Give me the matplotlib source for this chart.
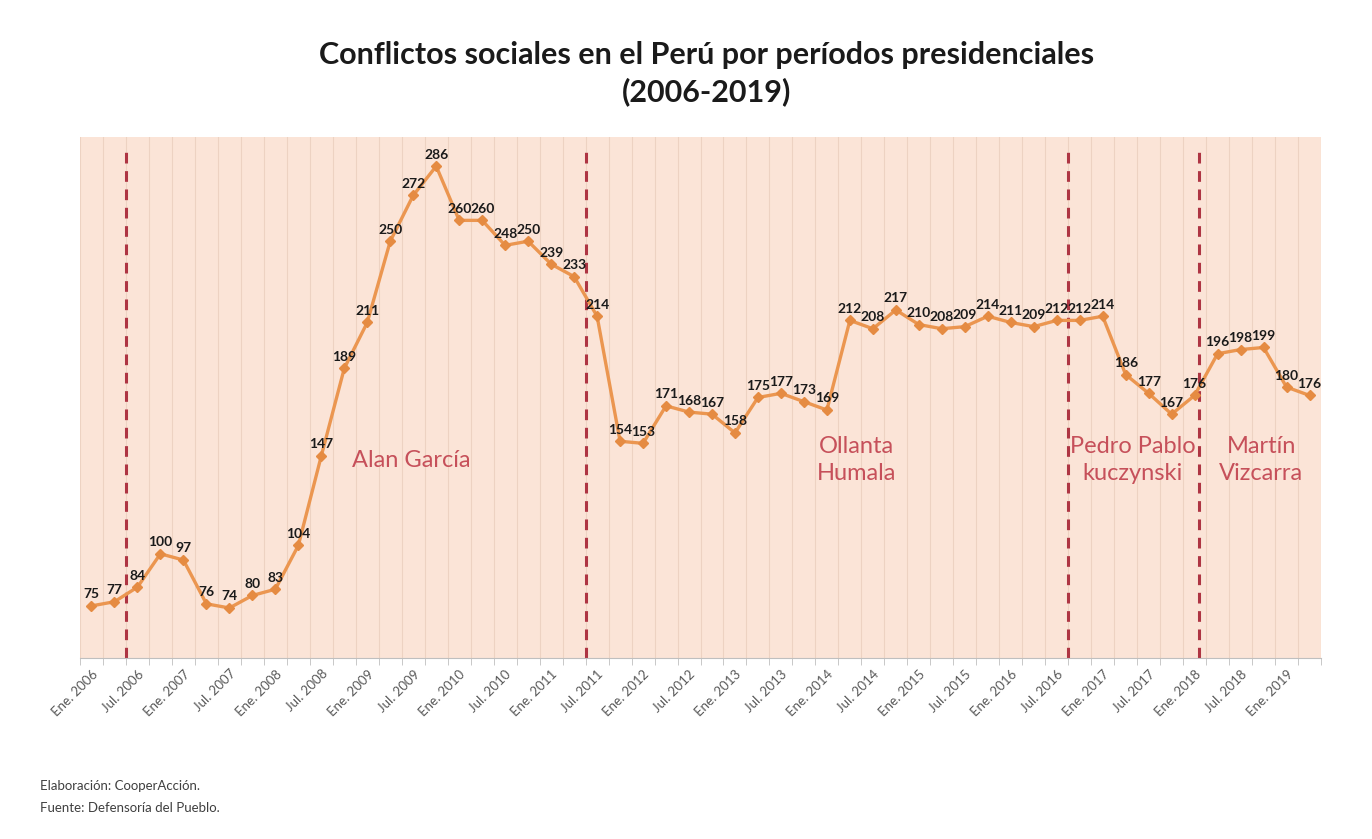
import matplotlib.pyplot as plt
import numpy as np

# quarterly counts of social conflicts (Ene, Abr, Jul, Oct), 2006 - Abr 2019
conflictos = [75, 77, 84, 100, 97, 76, 74, 80, 83, 104, 147, 189, 211, 250,
              272, 286, 260, 260, 248, 250, 239, 233, 214, 154, 153, 171, 168,
              167, 158, 175, 177, 173, 169, 212, 208, 217, 210, 208, 209, 214,
              211, 209, 212, 212, 214, 186, 177, 167, 176, 196, 198, 199, 180,
              176]
anios = list(range(2006, 2020))
meses = ['Ene.', 'Abr.', 'Jul.', 'Oct.']

# presidential periods: name and quarter index where the label sits
presidentes = ['Alan García', 'Ollanta\nHumala', 'Pedro Pablo\nkuczynski', 'Martín\nVizcarra']
pos_presidentes = [13.9, 33.3, 45.3, 50.9]
# change of government (quarter index)
cambios = [1.5, 21.5, 42.5, 48.2]

plt.rcParams['font.family'] = ['Lato', 'DejaVu Sans']

n = len(conflictos)
x = np.arange(n)
etiquetas = []
for a in anios:
  for m in meses:
    etiquetas.append(m + ' ' + str(a))
etiquetas = etiquetas[:n]

fig = plt.figure(figsize=(13.72, 8.39), dpi=100)
ax = fig.add_axes([80/1372, 1 - 658/839, 1241/1372, 521/839])
ax.set_facecolor('#FBE4D7')

ax.plot(x, conflictos, color='#EB9650', lw=2.4, marker='D', ms=5.5,
        mfc='#E58B42', mec='#E58B42', zorder=3)

for i, v in enumerate(conflictos):
  ax.annotate(str(v), (i, v), xytext=(0, 4), textcoords='offset points',
              ha='center', va='bottom', fontsize=10, fontweight='bold',
              color='#1a1a1a', zorder=4)

for c in cambios:
  ax.axvline(c, color='#AE3543', lw=2.2, ls=(0, (3.5, 2.5)), zorder=2,
             ymax=0.985)

for nombre, p in zip(presidentes, pos_presidentes):
  ax.text(p, 145, nombre, ha='center', va='center', fontsize=17,
          color='#C6505A', linespacing=1.35, zorder=4)

ax.set_xlim(-0.5, n - 0.5)
ax.set_ylim(50, 300)

# labels every half year, ticks and grid on category borders
ax.set_xticks(x[::2])
ax.set_xticklabels(etiquetas[::2], rotation=45, ha='right',
                   rotation_mode='anchor', fontsize=9.5, color='#595959')
ax.tick_params(axis='x', which='major', length=0, pad=7)
ax.set_xticks(np.arange(-0.5, n, 1), minor=True)
ax.tick_params(axis='x', which='minor', length=5, color='#BFBFBF')
ax.grid(which='minor', axis='x', color='#EDD2C2', lw=0.8, zorder=1)
ax.set_yticks([])

for s in ['top', 'left', 'right']:
  ax.spines[s].set_visible(False)
ax.spines['bottom'].set_color('#BFBFBF')

fig.text(0.515, 1 - 55/839, 'Conflictos sociales en el Perú por períodos presidenciales',
         ha='center', va='center', fontsize=22, fontweight='bold', color='#1a1a1a')
fig.text(0.515, 1 - 92/839, '(2006-2019)', ha='center', va='center',
         fontsize=22, fontweight='bold', color='#1a1a1a')

fig.text(40/1372, 1 - 786/839, 'Elaboración: CooperAcción.', ha='left',
         va='center', fontsize=9.5, color='#404040')
fig.text(40/1372, 1 - 808/839, 'Fuente: Defensoría del Pueblo.', ha='left',
         va='center', fontsize=9.5, color='#404040')

fig.savefig('out.png', dpi=100)
